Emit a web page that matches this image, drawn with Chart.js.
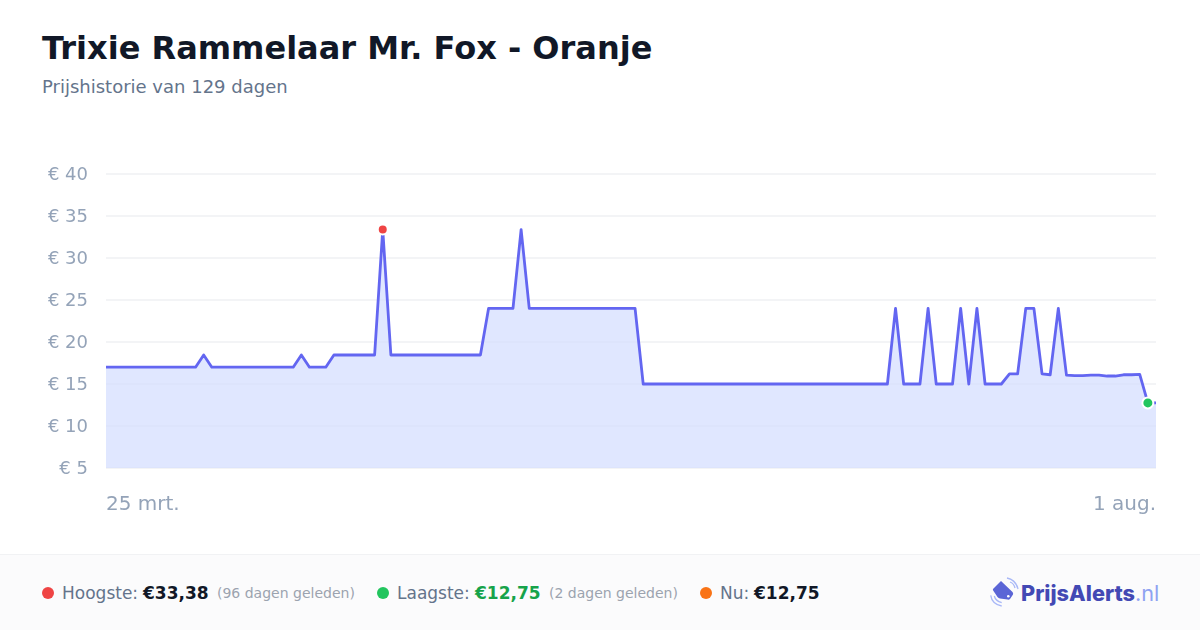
<!DOCTYPE html>
<html lang="nl"><head><meta charset="utf-8">
<script src="https://cdn.jsdelivr.net/npm/chart.js@4"></script>
<style>
*{box-sizing:border-box}
html,body{margin:0;padding:0;width:1200px;height:630px;overflow:hidden;background:#fff;font-family:"DejaVu Sans",sans-serif}
#chartBox{position:absolute;left:0;top:130px;width:1200px;height:424px}
h1{position:absolute;left:42px;top:28px;margin:0;font-size:32px;line-height:40px;font-weight:700;color:#111827;white-space:nowrap}
#sub{position:absolute;left:42px;top:76px;font-size:18px;line-height:22px;color:#64748b;white-space:nowrap}
#foot{position:absolute;left:0;top:554px;width:1200px;height:76px;background:#fbfbfc;border-top:1px solid #f1f2f4}
.s{position:absolute;top:0;height:76px;white-space:nowrap;line-height:76px}
.d{position:absolute;top:32px;width:12px;height:12px;border-radius:50%}
.l{position:absolute;top:0;font-size:17px;color:#64748b}
.v{position:absolute;top:0;font-size:17px;font-weight:700;color:#111827}
.a{position:absolute;top:0;font-size:14px;color:#9ca3af}
#logo{position:absolute;left:988px;top:576px}
#brand{position:absolute;left:1021px;top:579px;font-family:Inter,sans-serif;font-size:21.7px;line-height:28px;font-weight:800;color:#4349b4;white-space:nowrap}
#brand span{font-weight:400;color:#8ea2f2}
</style></head><body>
<h1>Trixie Rammelaar Mr. Fox - Oranje</h1>
<div id="sub">Prijshistorie van 129 dagen</div>
<div id="chartBox"><canvas id="c"></canvas></div>
<div id="foot">
<i class="d" style="left:42px;background:#ef4444"></i><span class="s l" style="left:62px">Hoogste:</span><span class="s v" style="left:143px">€33,38</span><span class="s a" style="left:217px">(96 dagen geleden)</span>
<i class="d" style="left:377px;background:#22c55e"></i><span class="s l" style="left:397px">Laagste:</span><span class="s v" style="left:475px;color:#16a34a">€12,75</span><span class="s a" style="left:549px">(2 dagen geleden)</span>
<i class="d" style="left:700px;background:#f97316"></i><span class="s l" style="left:720px">Nu:</span><span class="s v" style="left:754px">€12,75</span>
</div>
<svg id="logo" width="32" height="32" viewBox="0 0 32 32" fill="none">
<path d="M5 13 L13 5 L24.5 16 Q25.5 17 25 18.5 L22 23 Q21 24 19.5 23.5 L12 22.5 Q10.5 22 9.5 21 L5.5 15 Q4.5 14 5 13 Z" fill="#5b65d6"/>
<circle cx="20.3" cy="20.3" r="1.3" fill="#fff"/>
<path d="M19 2 Q28 4 30 13" stroke="#a9b8f7" stroke-width="1.3"/><path d="M22 6 Q26 7.5 27 12" stroke="#a9b8f7" stroke-width="1.3"/>
<path d="M2.7 19.3 Q4 28 13.7 30" stroke="#a9b8f7" stroke-width="1.3"/><path d="M6.3 20 Q7.5 25 13.7 26.7" stroke="#a9b8f7" stroke-width="1.3"/>
</svg>
<div id="brand">PrijsAlerts<span>.nl</span></div>
<script>
const priceValues = [
17,17,17,17,17,17,17,17,17,17,17,17,18.45,17,17,17,17,17,17,17,17,17,17,17,18.45,17,17,17,18.45,18.45,
18.45,18.45,18.45,18.45,33.38,18.45,18.45,18.45,18.45,18.45,18.45,18.45,18.45,18.45,18.45,18.45,18.45,24,24,24,
24,33.38,24,24,24,24,24,24,24,24,24,24,24,24,24,24,15,15,15,15,
15,15,15,15,15,15,15,15,15,15,15,15,15,15,15,15,15,15,15,15,
15,15,15,15,15,15,15,24,15,15,15,24,15,15,15,24,15,24,15,15,
15,16.2,16.2,24,24,16.2,16.1,24,16.05,16,16,16.05,16.05,15.95,15.95,16.1,16.1,16.15,12.75,12.75
];
const edgeLabels = ["25 mrt.", "1 aug."];
const yTickValues = [5,10,15,20,25,30,35,40];
const highestIndex = 34;
const lowestIndex = 128;
const categories = priceValues.map((_, i) => i === 0 ? edgeLabels[0] : i === priceValues.length - 1 ? edgeLabels[1] : "");

new Chart(document.getElementById("c"), {
  type: "line",
  data: { labels: categories, datasets: [{
    data: priceValues,
    borderColor: "#6366f1",
    backgroundColor: "rgba(211,221,255,0.7)",
    borderWidth: 2.8,
    fill: "start",
    tension: 0,
    borderJoinStyle: "round",
    pointRadius: c => c.dataIndex === highestIndex ? 5 : c.dataIndex === lowestIndex ? 5.5 : 0,
    pointBackgroundColor: c => c.dataIndex === highestIndex ? "#ef4444" : "#22c55e",
    pointBorderColor: "#ffffff",
    pointBorderWidth: 2,
    clip: false
  }]},
  options: {
    responsive: true, maintainAspectRatio: false, animation: false,
    layout: { padding: { top: 44, right: 44, left: 0, bottom: 0 } },
    plugins: { legend: { display: false }, tooltip: { enabled: false }, title: { display: false } },
    scales: {
      x: {
        grid: { display: false }, border: { display: false },
        afterFit: s => { s.height = 86; },
        ticks: { autoSkip: false, maxRotation: 0, minRotation: 0, align: "inner", padding: 17,
          color: "#94a3b8", font: { family: "DejaVu Sans", size: 20 } }
      },
      y: {
        min: 5, max: 40,
        afterFit: s => { s.width = 106; },
        afterBuildTicks: s => { s.ticks = yTickValues.map(v => ({ value: v })); },
        grid: { color: "#f3f4f6", lineWidth: 2, drawTicks: false }, border: { display: false },
        ticks: { padding: 18, labelOffset: 1, color: "#94a3b8", font: { family: "DejaVu Sans", size: 18 }, callback: v => "€ " + v }
      }
    }
  }
});
</script>
</body></html>
